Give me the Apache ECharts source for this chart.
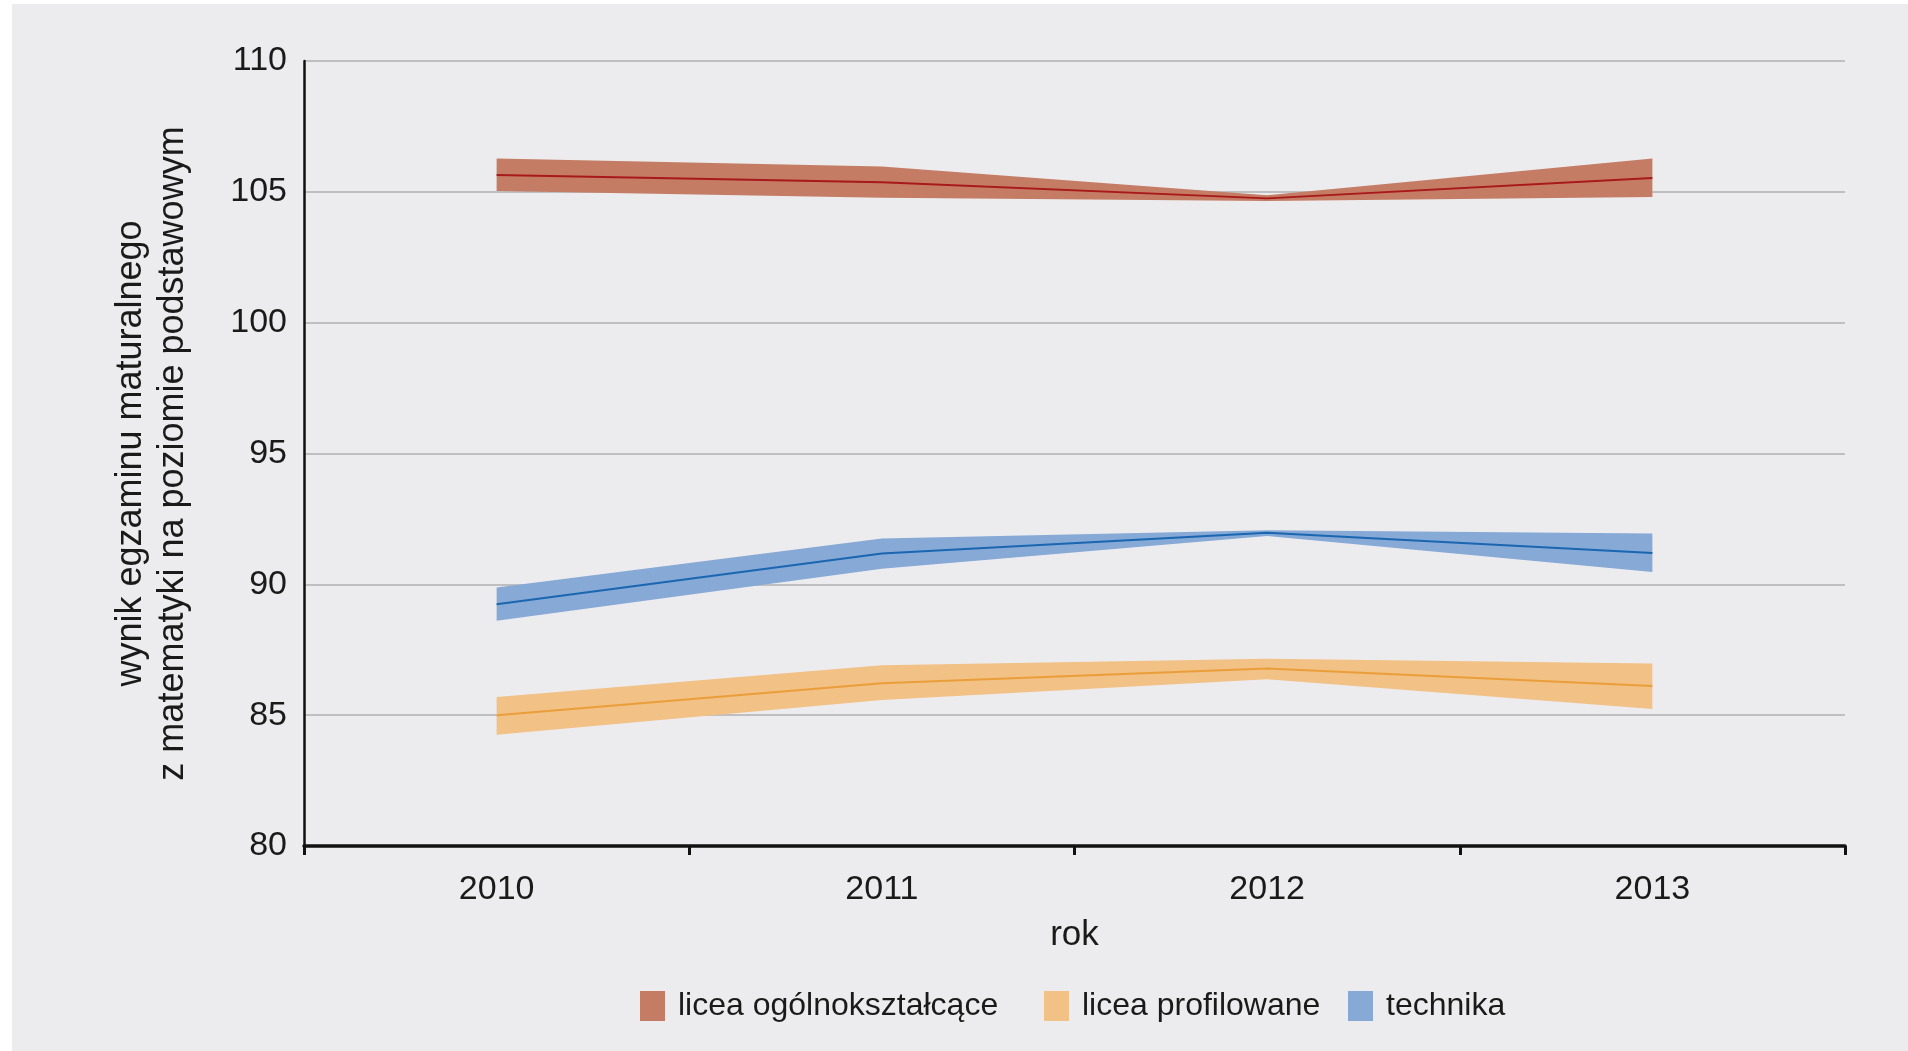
<!DOCTYPE html>
<html>
<head>
<meta charset="utf-8">
<script src="https://cdn.jsdelivr.net/npm/echarts@6/dist/echarts.min.js"></script>
<style>
html,body{margin:0;padding:0;background:#ffffff;width:1908px;height:1051px;overflow:hidden;}
#panel{position:absolute;left:12px;top:4px;right:0;bottom:0;background:#ECECEE;}
#chart{position:absolute;left:0;top:0;width:1908px;height:1051px;}
</style>
</head>
<body>
<div id="panel"></div>
<div id="chart"></div>
<script>
const years = ['2010', '2011', '2012', '2013'];
const seriesNames = ['licea ogólnokształcące', 'licea profilowane', 'technika'];

const loLow  = [105.03, 104.77, 104.65, 104.80];
const loMean = [105.64, 105.37, 104.75, 105.53];
const loHigh = [106.27, 105.97, 104.87, 106.27];

const lpLow  = [84.25, 85.58, 86.37, 85.24];
const lpMean = [85.00, 86.22, 86.78, 86.11];
const lpHigh = [85.69, 86.91, 87.16, 86.97];

const tLow  = [88.61, 90.60, 91.85, 90.47];
const tMean = [89.24, 91.18, 91.97, 91.20];
const tHigh = [89.88, 91.75, 92.07, 91.94];

const yTicks = [80, 85, 90, 95, 100, 105, 110];

const bandColors = ['#C47C64', '#F2C185', '#86A9D6'];
const lineColors = ['#A8191B', '#EA9E3A', '#1A66B0'];

function bandSeries(name, key, low, high, band, line, mean) {
  const diff = high.map((h, i) => +(h - low[i]).toFixed(3));
  return [
    { name: key + '_low', type: 'line', stack: key, data: low, symbol: 'none',
      lineStyle: { opacity: 0 }, silent: true, z: 2 },
    { name: name, type: 'line', stack: key, data: diff, symbol: 'none',
      lineStyle: { opacity: 0 }, areaStyle: { color: band, opacity: 1 },
      itemStyle: { color: band }, silent: true, z: 2 },
    { name: key + '_mean', type: 'line', data: mean, symbol: 'none',
      lineStyle: { color: line, width: 2 }, silent: true, z: 3 }
  ];
}

const legendLefts = [640, 1044, 1348];
function makeLegend(i) {
  return {
    data: [{ name: seriesNames[i], itemStyle: { color: bandColors[i] } }],
    top: 990, left: legendLefts[i], padding: 0,
    itemWidth: 25, itemHeight: 30,
    icon: 'rect',
    selectedMode: false,
    textStyle: { fontFamily: 'Liberation Sans, Arial, sans-serif', fontSize: 32, color: '#1a1a1a', padding: [0, 0, 0, 8] }
  };
}

const chart = echarts.init(document.getElementById('chart'), null, { renderer: 'canvas' });
const option = {
  backgroundColor: 'transparent',
  animation: false,
  grid: { left: 304, right: 63, top: 61, bottom: 205 },
  legend: [makeLegend(0), makeLegend(1), makeLegend(2)],
  xAxis: {
    type: 'category',
    data: years,
    boundaryGap: true,
    name: 'rok',
    nameLocation: 'middle',
    nameGap: 72,
    nameTextStyle: { fontFamily: 'Liberation Sans, Arial, sans-serif', fontSize: 35, color: '#1a1a1a' },
    axisLine: { lineStyle: { color: '#111', width: 3.5 } },
    axisTick: { show: true, length: 9, lineStyle: { color: '#111', width: 3 } },
    axisLabel: { fontFamily: 'Liberation Sans, Arial, sans-serif', fontSize: 34, color: '#1a1a1a', margin: 27 },
    splitLine: { show: false }
  },
  yAxis: {
    type: 'value',
    min: yTicks[0], max: yTicks[yTicks.length - 1], interval: 5,
    name: 'wynik egzaminu maturalnego\nz matematyki na poziomie podstawowym',
    nameLocation: 'middle',
    nameGap: 110,
    nameRotate: 90,
    nameTextStyle: { fontFamily: 'Liberation Sans, Arial, sans-serif', fontSize: 36, lineHeight: 42, color: '#1a1a1a', align: 'center' },
    axisLine: { show: true, lineStyle: { color: '#111', width: 2.5 } },
    axisTick: { show: false },
    axisLabel: { fontFamily: 'Liberation Sans, Arial, sans-serif', fontSize: 34, color: '#1a1a1a', margin: 17 },
    splitLine: { show: true, lineStyle: { color: '#B0B0B2', width: 1.5 } }
  },
  series: [
    ...bandSeries(seriesNames[0], 'lo', loLow, loHigh, bandColors[0], lineColors[0], loMean),
    ...bandSeries(seriesNames[1], 'lp', lpLow, lpHigh, bandColors[1], lineColors[1], lpMean),
    ...bandSeries(seriesNames[2], 'te', tLow, tHigh, bandColors[2], lineColors[2], tMean)
  ]
};
chart.setOption(option);
</script>
</body>
</html>
